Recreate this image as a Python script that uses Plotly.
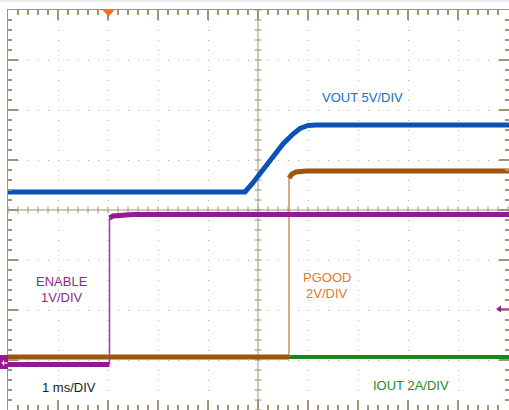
import plotly.graph_objects as go

# ---- data: time in ms (relative to trigger), amplitude in screen divisions ----
enable_t = [-2.0, 0.03, 0.03, 0.10, 0.50, 8.02]
enable_v = [0.91, 0.91, 3.84, 3.88, 3.91, 3.91]

vout_t = [-2.0, 2.74, 2.88, 3.00, 3.18, 3.30, 3.50, 3.70, 3.84, 4.00, 4.16, 8.02]
vout_v = [4.36, 4.36, 4.52, 4.68, 4.92, 5.06, 5.32, 5.52, 5.63, 5.69, 5.70, 5.70]

pgood_t = [-2.0, 3.62, 3.62, 3.68, 3.76, 3.96, 8.02]
pgood_v = [1.06, 1.06, 4.64, 4.72, 4.76, 4.78, 4.78]

iout_t = [-2.0, 8.02]
iout_v = [1.06, 1.06]

# ---- styling ----
W, H = 509, 410
ML, MT = 8, 10
PW, PH = W - ML, H - MT
FRAME = "#a09478"
DOTS = "#b2a98e"
FONT = "Liberation Sans, Arial, sans-serif"


def px2x(px):
    return (px - ML) / PW


def py2y(py):
    return (H - py) / PH


def split(t, v):
    """thick level segments and thin vertical edges"""
    tt, tv, et, ev = [], [], [], []
    for i in range(len(t)):
        if i > 0 and t[i] == t[i - 1]:
            tt.append(None); tv.append(None)
            et += [t[i - 1], t[i], None]; ev += [v[i - 1], v[i], None]
        tt.append(t[i]); tv.append(v[i])
    return tt, tv, et, ev


fig = go.Figure()

channels = [
    (iout_t, iout_v, "#138a17", "#138a17", 4),
    (pgood_t, pgood_v, "#a2530e", "#c9915f", 5),
    (enable_t, enable_v, "#921a92", "#a43aa4", 5),
    (vout_t, vout_v, "#0a52b6", "#0a52b6", 5),
]
for t, v, col, ecol, w in channels:
    tt, tv, et, ev = split(t, v)
    if et:
        fig.add_trace(go.Scatter(x=et, y=ev, mode="lines",
                                 line=dict(color=ecol, width=1.5),
                                 hoverinfo="skip", showlegend=False))
    fig.add_trace(go.Scatter(x=tt, y=tv, mode="lines",
                             line=dict(color=col, width=w),
                             hoverinfo="skip", showlegend=False))

shapes = []
# center cross lines with ticks
shapes.append(dict(type="line", xref="x", yref="paper", x0=3, x1=3, y0=0, y1=1,
                   line=dict(color=FRAME, width=1), layer="below"))
shapes.append(dict(type="line", xref="paper", yref="y", x0=0, x1=1, y0=4, y1=4,
                   line=dict(color=FRAME, width=1), layer="below"))
hx = 3.5 / 50.0
for k in range(41):
    yv = k * 0.2
    shapes.append(dict(type="line", xref="x", yref="y", x0=3 - hx, x1=3 + hx,
                       y0=yv, y1=yv, line=dict(color=FRAME, width=1), layer="below"))
for k in range(51):
    xv = -2 + k * 0.2
    shapes.append(dict(type="line", xref="x", yref="y", x0=xv, x1=xv,
                       y0=4 - hx, y1=4 + hx, line=dict(color=FRAME, width=1), layer="below"))

# trigger marker
shapes.append(dict(type="path", xref="paper", yref="paper",
                   path=f"M{px2x(102.5)},{py2y(10)} L{px2x(114.5)},{py2y(10)} L{px2x(108.5)},{py2y(16.5)} Z",
                   fillcolor="#ff6a1a", line=dict(width=0)))
# ground marker (left)
shapes.append(dict(type="rect", xref="paper", yref="paper",
                   x0=px2x(0), x1=px2x(8), y0=py2y(369), y1=py2y(355),
                   fillcolor="#921a92", line=dict(width=0)))
shapes.append(dict(type="line", xref="paper", yref="paper",
                   x0=px2x(1.5), x1=px2x(7.5), y0=py2y(363), y1=py2y(363),
                   line=dict(color="white", width=1.2)))
shapes.append(dict(type="line", xref="paper", yref="paper",
                   x0=px2x(3.5), x1=px2x(3.5), y0=py2y(360.5), y1=py2y(365.5),
                   line=dict(color="white", width=1.2)))
# offset arrow (right)
shapes.append(dict(type="line", xref="paper", yref="paper",
                   x0=px2x(499), x1=px2x(509), y0=py2y(309), y1=py2y(309),
                   line=dict(color="#a43aa4", width=1.5)))
shapes.append(dict(type="path", xref="paper", yref="paper",
                   path=f"M{px2x(496)},{py2y(309)} L{px2x(501)},{py2y(305.5)} L{px2x(501)},{py2y(312.5)} Z",
                   fillcolor="#921a92", line=dict(width=0)))
# light strip at very top
shapes.append(dict(type="rect", xref="paper", yref="paper",
                   x0=px2x(0), x1=px2x(509), y0=py2y(2), y1=py2y(0),
                   fillcolor="#ededed", line=dict(width=0)))

labels = [
    ("VOUT 5V/DIV", 362, 97, "#1a6fc6"),
    ("ENABLE", 62, 281, "#8c2a8c"),
    ("1V/DIV", 62, 297, "#8c2a8c"),
    ("PGOOD", 327, 277, "#e27a2c"),
    ("2V/DIV", 327, 293, "#e27a2c"),
    ("1 ms/DIV", 69, 387, "#1a1a1a"),
    ("IOUT 2A/DIV", 411, 385, "#1a8c2a"),
]
annotations = [dict(text=s, x=px2x(x), y=py2y(y), xref="paper", yref="paper",
                    showarrow=False, xanchor="center", yanchor="middle",
                    font=dict(family=FONT, size=13, color=c)) for s, x, y, c in labels]

axis_common = dict(showline=True, linecolor=FRAME, linewidth=1, mirror="ticks",
                   ticks="inside", ticklen=10, tickwidth=1.5, tickcolor=FRAME,
                   showticklabels=False, zeroline=False, fixedrange=True,
                   showgrid=True, gridcolor=DOTS, gridwidth=1, griddash="1px,9px")

fig.update_layout(
    width=W, height=H,
    margin=dict(l=ML, r=0, t=MT, b=0, pad=0),
    paper_bgcolor="white", plot_bgcolor="white",
    xaxis=dict(range=[-2, 8.02], tick0=0, dtick=1,
               minor=dict(dtick=0.2, ticks="inside", ticklen=5, tickcolor=FRAME, showgrid=False),
               **axis_common),
    yaxis=dict(range=[0, 8], tick0=0, dtick=1,
               minor=dict(dtick=0.2, ticks="inside", ticklen=4, tickcolor=FRAME, showgrid=False),
               **axis_common),
    shapes=shapes,
    annotations=annotations,
    showlegend=False,
)

fig.write_html("out.html", config={"displayModeBar": False},
               post_script="document.body.style.margin='0';document.body.style.overflow='hidden';")
